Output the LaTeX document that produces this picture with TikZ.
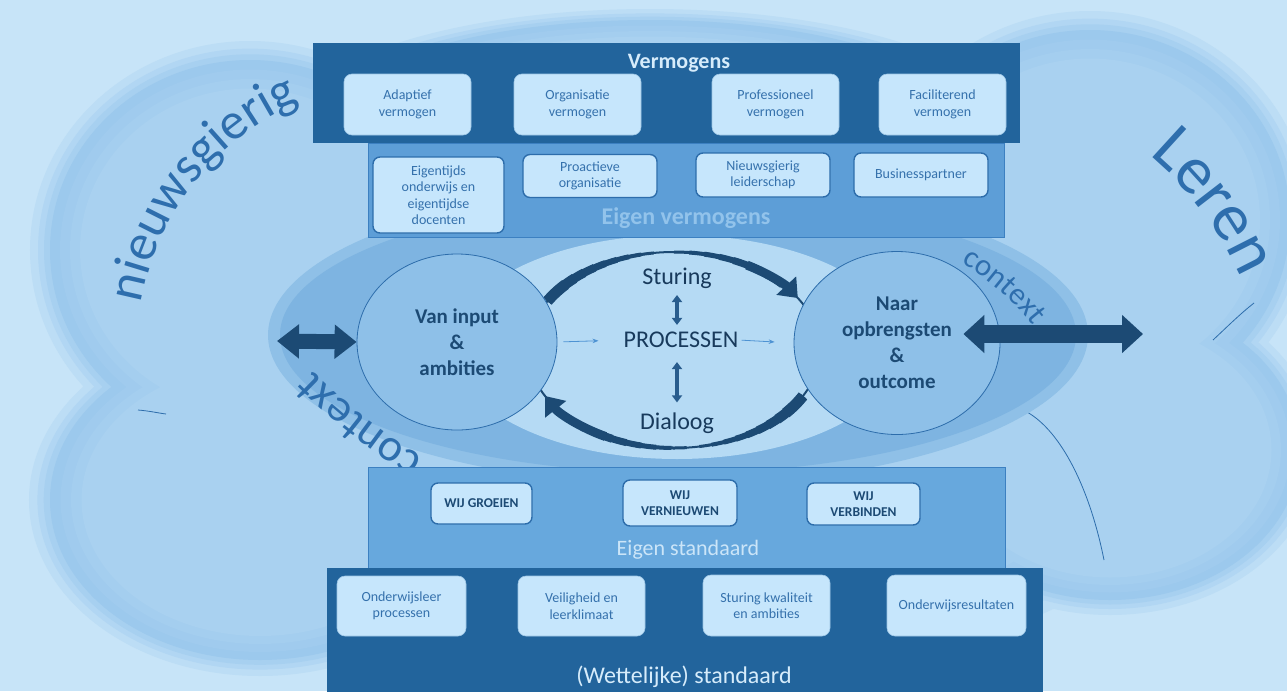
\documentclass[tikz,border=0pt]{standalone}
\usepackage{fontspec}
\setmainfont{Carlito}
\usetikzlibrary{shapes.geometric,arrows.meta,decorations.text}

\definecolor{achtergrond}{HTML}{C7E4F8}
\definecolor{wolk}{HTML}{9CC9ED}
\definecolor{wolkkern}{HTML}{A9D1F0}
\definecolor{ctxrand}{HTML}{8FC0E7}
\definecolor{ctxkleur}{HTML}{7EB4E1}
\definecolor{proces}{HTML}{B5DAF4}
\definecolor{kringkleur}{HTML}{8EC0E8}
\definecolor{donker}{HTML}{22649C}
\definecolor{eigenband}{HTML}{5D9ED7}
\definecolor{eigenband2}{HTML}{67A8DD}
\definecolor{eigenrand}{HTML}{3C80C1}
\definecolor{vakkleur}{HTML}{C6E6FC}
\definecolor{vakrand}{HTML}{2D6DAB}
\definecolor{vaktekst}{HTML}{3571AC}
\definecolor{navy}{HTML}{1C4A74}
\definecolor{procnavy}{HTML}{183A5C}
\definecolor{dunblauw}{HTML}{4E93D3}
\definecolor{stuurkleur}{HTML}{285C8D}
\definecolor{boogtekst}{HTML}{2E6EAD}
\definecolor{titelkleur}{HTML}{D6ECFB}
\definecolor{eigenlabel}{HTML}{92C3EB}
\definecolor{standaardlabel}{HTML}{CBE5F8}

\tikzset{
  vak/.style={rounded corners=8pt, fill=vakkleur, draw=vakkleur!75!donker, line width=.6pt, text=vaktekst, align=center, inner sep=2pt, font=\fontsize{14}{16.5}\selectfont},
  eigenvak/.style={vak, draw=vakrand, line width=1.4pt, rounded corners=7pt},
  wijvak/.style={eigenvak, text=navy, font=\bfseries\fontsize{13.5}{16.5}\selectfont},
  kring/.style={ellipse, fill=kringkleur, draw=vakrand, line width=.8pt, inner sep=0pt, align=center, text=navy, font=\bfseries\fontsize{21}{26}\selectfont},
  proctekst/.style={inner sep=0pt, text=procnavy, font=\fontsize{24}{28}\selectfont},
  dubbel/.style={draw=navy, line width=15pt, {Triangle[width=33pt,length=22pt]}-{Triangle[width=33pt,length=22pt]}},
  dunpijl/.style={draw=dunblauw, line width=.8pt, -{Stealth[length=6pt,width=4.5pt]}},
  stuurpijl/.style={draw=stuurkleur, line width=3.5pt, {Triangle[width=10pt,length=7pt]}-{Triangle[width=10pt,length=7pt]}},
  boogpijl/.style={draw=navy, line width=9pt, -{Triangle[width=26pt,length=17pt]}},
  wolklijn/.style={draw=vakrand, line width=.8pt},
  bandtitel/.style={inner sep=0pt, text=titelkleur, font=\bfseries\fontsize{22}{26}\selectfont},
}

\begin{document}
\begin{tikzpicture}[x=1pt, y=-1pt]
\useasboundingbox (0,0) rectangle (1287,691);
\fill[achtergrond] (0,0) rectangle (1287,691);

\foreach \s/\k in {1.10/achtergrond!75!wolk, 1.06/achtergrond!50!wolk, 1.03/achtergrond!25!wolk, 1/wolk, 0.95/wolk!70!wolkkern, 0.9/wolk!40!wolkkern, 0.85/wolkkern}
  \foreach \x/\y/\rx/\ry in {250/250/200/190, 260/500/210/160, 650/130/330/110, 1090/220/200/190, 1110/450/190/150, 680/430/480/230}
    \fill[\k] (\x,\y) ellipse [x radius=\s*\rx, y radius=\s*\ry];
\draw[wolklijn] (1027,412) .. controls (1062,432) and (1090,490) .. (1104,560);
\draw[wolklijn] (1213,340) .. controls (1228,326) and (1240,314) .. (1254,303);
\draw[wolklijn] (138,410) .. controls (150,411) and (158,413) .. (166,414);

\fill[ctxrand] (678,335) ellipse [x radius=410, y radius=150];
\fill[ctxkleur] (678,335) ellipse [x radius=398, y radius=138];
\fill[proces] (677,347) ellipse [x radius=225, y radius=112];

\path[decorate, decoration={text along path, text align=left, text color=boogtekst, text={|\fontsize{52}{60}\selectfont|nieuwsgierig}}] ([shift={(190:270)}]407,350) arc[start angle=190, end angle=255, radius=270];
\path[decorate, decoration={text along path, text align=left, text color=boogtekst, text={|\fontsize{68}{76}\selectfont|Leren}}] ([shift={(-50:342)}]929,417) arc[start angle=-50, end angle=-15, radius=342];
\path[decorate, decoration={text along path, text align=left, text color=boogtekst, text={|\fontsize{46}{52}\selectfont|context}}] ([shift={(121:570)}]717,-31) arc[start angle=121, end angle=142, radius=570];
\path[decorate, decoration={text along path, text align=left, text color=boogtekst, text={|\fontsize{31}{36}\selectfont|context}}] ([shift={(-59:265)}]825,490) arc[start angle=-59, end angle=-30, radius=265];

\filldraw[fill=eigenband, draw=eigenrand, line width=1pt] (368,143) rectangle (1004,237);
\fill[donker] (313,43) rectangle (1020,143);
\filldraw[fill=eigenband2, draw=eigenrand, line width=1pt] (368,467) rectangle (1005,568);
\fill[donker] (327,568) rectangle (1043,695);

\node[bandtitel] (vermogens) at (679,63) {Vermogens};
\node[vak, minimum width=127pt, minimum height=61pt] (adaptief) at (407.5,104.5) {Adaptief\\vermogen};
\node[vak, minimum width=127pt, minimum height=61pt] (organisatie) at (577.5,104.5) {Organisatie\\vermogen};
\node[vak, minimum width=127pt, minimum height=61pt] (professioneel) at (775.5,104.5) {Professioneel\\vermogen};
\node[vak, minimum width=127pt, minimum height=61pt] (faciliterend) at (942.5,104.5) {Faciliterend\\vermogen};

\node[bandtitel, text=eigenlabel, font=\bfseries\fontsize{24}{28}\selectfont] (eigenvermogens) at (686,218) {Eigen vermogens};
\node[eigenvak, minimum width=131pt, minimum height=76pt] (eigentijds) at (438.5,195) {Eigentijds\\onderwijs en\\eigentijdse\\docenten};
\node[eigenvak, minimum width=134pt, minimum height=43pt] (proactief) at (590,176) {Proactieve\\organisatie};
\node[eigenvak, minimum width=134pt, minimum height=44pt] (leiderschap) at (763,175) {Nieuwsgierig\\leiderschap};
\node[eigenvak, minimum width=134pt, minimum height=44pt] (business) at (921,175) {Businesspartner};

\node[wijvak, minimum width=101pt, minimum height=41pt] (groeien) at (481.5,503.5) {WIJ GROEIEN};
\node[wijvak, minimum width=114pt, minimum height=46pt] (vernieuwen) at (680,503) {WIJ\\VERNIEUWEN};
\node[wijvak, minimum width=113pt, minimum height=42pt] (verbinden) at (863.5,504) {WIJ\\VERBINDEN};
\node[bandtitel, text=standaardlabel, font=\fontsize{22}{26}\selectfont] (eigenstandaard) at (688,550) {Eigen standaard};

\node[vak, minimum width=129pt, minimum height=60pt] (leerproces) at (401.5,606) {Onderwijsleer\\processen};
\node[vak, minimum width=127pt, minimum height=60pt] (veiligheid) at (581.5,606) {Veiligheid en\\leerklimaat};
\node[vak, minimum width=127pt, minimum height=61pt] (kwaliteit) at (766.5,605.5) {Sturing kwaliteit\\en ambities};
\node[vak, minimum width=139pt, minimum height=61pt] (resultaten) at (956.5,605.5) {Onderwijsresultaten};
\node[bandtitel, font=\fontsize{24}{28}\selectfont] (wettelijk) at (684,677) {(Wettelijke) standaard};

\coordinate (lus) at (674,350);
\draw[navy, line width=2pt] (lus) ellipse [x radius=146, y radius=98];
\foreach \i in {0,...,8} {
  \draw[navy, line width=11pt-\i pt] ([shift={(210:146 and 98)}]lus) arc[start angle=210, end angle=222+5*\i, x radius=146, y radius=98];
  \draw[navy, line width=11pt-\i pt] ([shift={(28:146 and 98)}]lus) arc[start angle=28, end angle=40+5*\i, x radius=146, y radius=98];
}
\foreach \i in {0,...,5} {
  \draw[navy, line width=3pt+\i pt] ([shift={(270+6*\i:146 and 98)}]lus) arc[start angle=270+6*\i, end angle=318, x radius=146, y radius=98];
  \draw[navy, line width=3pt+\i pt] ([shift={(85+6*\i:146 and 98)}]lus) arc[start angle=85+6*\i, end angle=125, x radius=146, y radius=98];
}
\draw[boogpijl] ([shift={(300:146 and 98)}]lus) arc[start angle=300, end angle=328, x radius=146, y radius=98];
\draw[boogpijl] ([shift={(118:146 and 98)}]lus) arc[start angle=118, end angle=152, x radius=146, y radius=98];

\node[kring, minimum width=200pt, minimum height=176pt] (vanin) at (457,342) {Van input\\\&\\ambities};
\node[kring, minimum width=206pt, minimum height=183pt] (naar) at (897,343) {Naar\\opbrengsten\\\&\\outcome};

\node[proctekst] (sturing) at (677,278) {Sturing};
\node[proctekst] (proc) at (681,340) {PROCESSEN};
\node[proctekst] (dialoog) at (677,423) {Dialoog};
\draw[stuurpijl, shorten <=6.5pt, shorten >=7pt] (sturing.south) -- (sturing.south |- proc.north);
\draw[stuurpijl, shorten <=14pt, shorten >=10pt] (dialoog.north |- proc.south) -- (dialoog.north);
\draw[dunpijl, shorten <=6pt, shorten >=25pt] (vanin.east) -- (proc.west);
\draw[dunpijl, shorten <=3pt, shorten >=19pt] (proc.east) -- (naar.west);

\coordinate (links) at (277,341);
\coordinate (rechts) at (1143,334);
\draw[dubbel] (links) -- (vanin.west);
\draw[dubbel, line width=18pt, {Triangle[width=37pt,length=21pt]}-{Triangle[width=37pt,length=21pt]}] ([shift={(-37,-9)}]naar.east) -- (rechts);
\end{tikzpicture}
\end{document}
